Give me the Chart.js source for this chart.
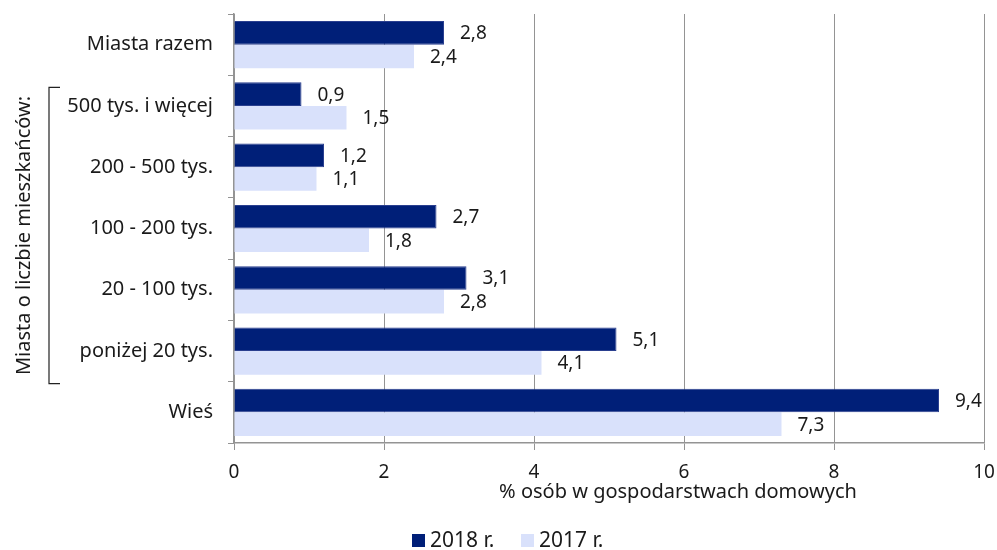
<!DOCTYPE html>
<html lang="pl">
<head>
<meta charset="utf-8">
<script src="https://cdn.jsdelivr.net/npm/chart.js@4/dist/chart.umd.min.js"></script>
<style>
  html, body { margin: 0; padding: 0; background: #fff; }
  #wrap { width: 997px; height: 550px; position: relative; }
</style>
</head>
<body>
<div id="wrap"><canvas id="chart"></canvas></div>
<script>
  // ── Data ────────────────────────────────────────────────────────
  const categories = [
    "Miasta razem",
    "500 tys. i więcej",
    "200 - 500 tys.",
    "100 - 200 tys.",
    "20 - 100 tys.",
    "poniżej 20 tys.",
    "Wieś",
  ];
  const values2018 = [2.8, 0.9, 1.2, 2.7, 3.1, 5.1, 9.4];
  const values2017 = [2.4, 1.5, 1.1, 1.8, 2.8, 4.1, 7.3];
  const seriesNames = ["2018 r.", "2017 r."];
  const xTicks = [0, 2, 4, 6, 8, 10];
  const axisTitle = "% osób w gospodarstwach domowych";
  const groupLabel = "Miasta o liczbie mieszkańców:";

  // ── Style ───────────────────────────────────────────────────────
  const fontFamily = "'Noto Sans', 'Open Sans', sans-serif";
  const textColor  = "#1a1a1a";
  const gridColor  = "#949494";
  const darkBlue   = "#001f78";
  const lightBlue  = "#d9e1fb";

  const fmt = (v) => v.toFixed(1).replace(".", ",");

  // value labels at the end of each bar
  const valueLabels = {
    id: "valueLabels",
    afterDatasetsDraw(chart) {
      const ctx = chart.ctx;
      ctx.save();
      ctx.font = `19px ${fontFamily}`;
      ctx.fillStyle = textColor;
      ctx.textAlign = "left";
      ctx.textBaseline = "middle";
      chart.data.datasets.forEach((ds, i) => {
        chart.getDatasetMeta(i).data.forEach((bar, j) => {
          ctx.fillText(fmt(ds.data[j]), bar.x + 16, bar.y + 1);
        });
      });
      ctx.restore();
    },
  };

  // axis title, bracket with rotated group label, legend
  const extras = {
    id: "extras",
    afterDraw(chart) {
      const ctx = chart.ctx;
      const y = chart.scales.y;
      ctx.save();
      ctx.fillStyle = textColor;
      ctx.font = `20px ${fontFamily}`;

      // x axis title
      ctx.textAlign = "center";
      ctx.textBaseline = "middle";
      ctx.fillText(axisTitle, 678, 492);

      // bracket around city-size categories (index 1..5)
      const step = y.getPixelForValue(1) - y.getPixelForValue(0);
      const top = y.getPixelForValue(1) - step / 2 + 12;
      const bot = y.getPixelForValue(5) + step / 2 + 2;
      ctx.strokeStyle = "#222";
      ctx.lineWidth = 1.2;
      ctx.beginPath();
      ctx.moveTo(60, top);
      ctx.lineTo(49, top);
      ctx.lineTo(49, bot);
      ctx.lineTo(60, bot);
      ctx.stroke();

      ctx.save();
      ctx.translate(24, (top + bot) / 2);
      ctx.rotate(-Math.PI / 2);
      ctx.fillText(groupLabel, 0, 0);
      ctx.restore();

      // legend
      ctx.textAlign = "left";
      ctx.font = `21px ${fontFamily}`;
      const items = [
        { x: 412, color: chart.data.datasets[0].backgroundColor, text: seriesNames[0] },
        { x: 521, color: chart.data.datasets[1].backgroundColor, text: seriesNames[1] },
      ];
      items.forEach((it) => {
        ctx.fillStyle = it.color;
        ctx.fillRect(it.x, 534, 13, 13);
        ctx.fillStyle = textColor;
        ctx.fillText(it.text, it.x + 18, 541);
      });
      ctx.restore();
    },
  };

  new Chart(document.getElementById("chart"), {
    type: "bar",
    data: {
      labels: categories,
      datasets: [
        {
          label: seriesNames[0],
          data: values2018,
          backgroundColor: darkBlue,
          borderColor: "#2a3f8f",
          borderWidth: 1,
          categoryPercentage: 0.77,
          barPercentage: 1.0,
        },
        {
          label: seriesNames[1],
          data: values2017,
          backgroundColor: lightBlue,
          borderWidth: 0,
          categoryPercentage: 0.77,
          barPercentage: 1.0,
        },
      ],
    },
    options: {
      indexAxis: "y",
      responsive: true,
      maintainAspectRatio: false,
      animation: false,
      layout: { padding: { top: 14, right: 13, left: 0, bottom: 0 } },
      plugins: {
        legend: { display: false },
        tooltip: { enabled: false },
      },
      scales: {
        x: {
          min: 0,
          max: 10,
          afterBuildTicks: (s) => { s.ticks = xTicks.map((v) => ({ value: v })); },
          afterFit: (s) => { s.height = 107; s.paddingLeft = 0; s.paddingRight = 0; },
          grid: { color: gridColor, tickLength: 7, drawTicks: true },
          border: { display: true, color: gridColor, width: 1.5 },
          ticks: {
            padding: 11,
            color: textColor,
            font: { family: fontFamily, size: 19 },
          },
        },
        y: {
          afterFit: (s) => { s.width = 234; s.paddingTop = 0; s.paddingBottom = 0; },
          grid: { drawOnChartArea: false, offset: true, tickLength: 6, color: gridColor },
          border: { display: true, color: gridColor, width: 1.5 },
          ticks: {
            padding: 15,
            color: textColor,
            font: { family: fontFamily, size: 20 },
          },
        },
      },
    },
    plugins: [valueLabels, extras],
  });
</script>
</body>
</html>
